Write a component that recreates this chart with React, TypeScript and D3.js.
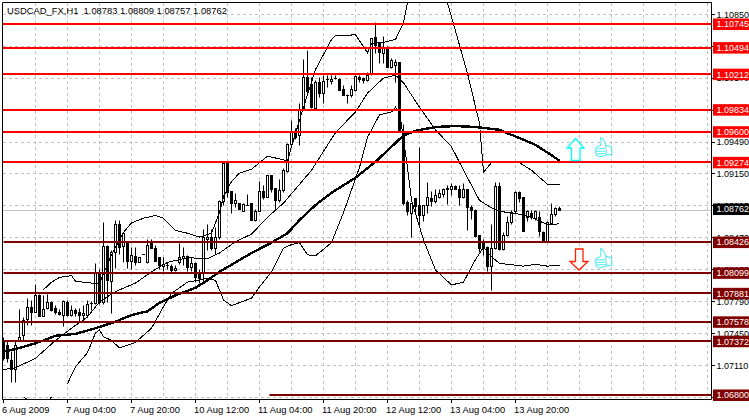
import React from "react";
import * as d3 from "d3";

// All prices below are in pips (price x 10000).
const opens = [10738,10733,10717,10707,10738,10743,10760,10773,10768,10786,10764,10772,10778,10772,10768,10765,10778,10765,10770,10768,10765,10765,10777,10777,10810,10778,10838,10801,10832,10861,10838,10842,10822,10827,10821,10829,10821,10841,10836,10826,10817,10818,10817,10812,10821,10825,10827,10816,10820,10810,10810,10845,10848,10836,10848,10886,10926,10896,10884,10884,10875,10882,10884,10866,10875,10896,10890,10913,10900,10887,10897,10918,10946,10960,10956,10983,11018,11010,10985,11012,11001,11015,11013,11017,11016,11005,10999,10998,11004,11018,11017,11014,11022,11060,11054,11043,11050,11028,11030,11034,10959,10885,10873,10889,10881,10871,10881,10889,10886,10890,10893,10898,10898,10902,10899,10890,10898,10879,10876,10850,10843,10837,10817,10836,10902,10835,10850,10863,10875,10895,10890,10869,10873,10868,10869,10853,10843,10862,10872,10878.3];
const highs = [10741,10738,10726,10738,10771,10762,10783,10780,10798,10787,10786,10787,10779,10775,10771,10781,10781,10775,10772,10772,10775,10781,10779,10820,10813,10863,10839,10834,10866,10866,10853,10842,10837,10837,10826,10829,10845,10845,10839,10826,10826,10821,10819,10818,10841,10837,10828,10826,10821,10813,10856,10861,10856,10858,10887,10926,10926,10896,10894,10884,10884,10893,10884,10877,10907,10903,10913,10913,10900,10909,10921,10947,10972,10963,10990,11037,11046,11018,11014,11018,11020,11020,11020,11020,11017,11009,11000,11009,11020,11020,11018,11023,11059,11076,11055,11061,11051,11038,11037,11034,10968,10887,10884,10889,10943,10882,10906,10896,10898,10898,10900,10903,10905,10903,10903,10905,10898,10882,10877,10850,10845,10838,10861,10906,10906,10853,10870,10876,10896,10896,10890,10876,10876,10876,10875,10854,10864,10884,10879,10880.9];
const lows = [10717,10715,10693,10693,10738,10738,10754,10754,10768,10764,10764,10771,10769,10766,10765,10753,10764,10763,10764,10758,10758,10763,10770,10776,10776,10776,10778,10767,10815,10829,10821,10815,10813,10818,10821,10829,10820,10836,10822,10813,10811,10813,10810,10811,10819,10818,10811,10811,10800,10799,10801,10834,10834,10829,10845,10882,10890,10873,10879,10877,10875,10881,10866,10864,10875,10888,10890,10895,10876,10885,10895,10917,10945,10952,10945,10983,11000,10985,10982,10996,10990,11007,11010,11015,11004,10998,10990,10996,11003,11012,11011,11013,11020,11043,11032,11032,11028,11027,11012,10959,10881,10871,10847,10873,10860,10864,10873,10880,10884,10889,10890,10883,10892,10898,10882,10889,10855,10867,10848,10831,10828,10811,10791,10835,10834,10834,10849,10861,10873,10885,10854,10864,10867,10866,10849,10843,10843,10862,10870,10875.7];
const closes = [10719,10719,10707,10733,10741,10759,10773,10768,10786,10764,10771,10778,10770,10768,10766,10779,10765,10770,10767,10765,10767,10776,10777,10810,10778,10838,10802,10832,10861,10837,10852,10822,10828,10821,10826,10829,10839,10836,10822,10818,10819,10818,10812,10815,10826,10827,10816,10820,10805,10804,10847,10848,10836,10848,10886,10926,10895,10884,10887,10877,10883,10882,10866,10875,10896,10890,10913,10898,10887,10897,10919,10946,10959,10954,10983,11018,11003,10986,11012,11001,11013,11015,11016,11017,11004,10999,10999,11005,11019,11016,11014,11020,11059,11052,11044,11050,11028,11036,11034,10959,10884,10875,10884,10880,10871,10881,10890,10886,10892,10894,10899,10900,10902,10899,10890,10899,10879,10876,10849,10836,10836,10817,10836,10902,10835,10850,10863,10873,10895,10889,10854,10875,10869,10875,10854,10843,10863,10872,10878,10876.2];

const maBars = [0,4,8,10,13,18,23,28,32,36,39,43,48,51,54,58,62,67,71,74,78,82,88,93,100,103,108,113,118,124,125,128,133,137,139];
const maValues = [10726,10730,10735,10738,10743,10745,10751,10758,10765,10769,10778,10786,10794,10802,10811,10821,10831,10842,10852,10866,10882,10895,10911,10928,10956,10961,10965,10966,10965,10962,10960,10955,10946,10935,10929];

const midBars = [0,3,8,13,17,21,24,28,33,37,41,46,51,54,58,62,66,70,77,83,88,91,95,98,100,104,108,112,115,119,122,124,127,132,136,139];
const midValues = [10707,10709,10719,10738,10751,10763,10779,10790,10799,10811,10821,10826,10825,10831,10843,10851,10869,10884,10919,10959,10981,11001,11017,11020,11012,10986,10962,10944,10919,10887,10879,10875,10874,10869,10861,10862];

const upperBars = [10,12,14,17,18,22,24,27,30,32,35,38,40,43,46,49,52,54,55,57,59,62,64,66,68,71,72,75,78,82,83,88,91,92,95,98,100,101,104,108,111,112,116,119,120,122,124,127,129,132,136,139];
const upperValues = [10792,10800,10805,10807,10801,10799,10799,10829,10853,10863,10868,10871,10868,10855,10852,10848,10852,10874,10891,10907,10916,10920,10927,10934,10932,10929,10944,10986,11026,11058,11062,11063,11044,11054,11055,11058,11076,11097,11153,11153,11097,11082,11022,10969,10917,10927,10928,10927,10927,10919,10904,10904];

const lowerBars = [5,7,9,11,12,14,16,18,21,23,24,25,27,29,33,37,40,42,46,51,53,55,57,62,64,67,70,72,74,76,78,82,85,89,91,94,97,98,99,101,102,105,108,112,115,118,120,122,124,130,133,136,139];
const lowerValues: (number | null)[] = [10678,10672,10653,10672,10678,null,10692,10710,10725,10746,10749,10742,10738,10730,10736,10751,10774,10788,10800,10804,10802,10781,10775,10783,10795,10811,10836,10840,10842,10829,10828,10842,10874,10922,10954,10978,10981,10986,10981,10922,10887,10845,10813,10797,10800,10824,10837,10827,10820,10817,10819,10817,10818];

const resistanceLevels = [11074.5, 11049.4, 11021.2, 10983.4, 10960.0, 10927.4];
const resistanceLabels = ["1.10745", "1.10494", "1.10212", "1.09834", "1.09600", "1.09274"];
const supportLevels = [10842.6, 10809.9, 10788.1, 10757.8, 10737.2, 10680.0];
const supportLabels = ["1.08426", "1.08099", "1.07881", "1.07578", "1.07372", "1.06800"];
const supportStartBar = [0, 0, 0, 0, 0, 66.5];

const priceTicks = [11085, 11051, 11017, 10983, 10949, 10915, 10881, 10847, 10813, 10779, 10745, 10711, 10677];
// "" marks a tick whose label is wholly covered by a level tag in the reference.
const priceTickLabels = ["1.10850", "", "1.10170", "", "1.09490", "1.09150", "1.08810", "1.08470", "1.08130", "1.07790", "1.07450", "1.07110", "1.06770"];
const timeTickBars = [0, 16, 32, 48, 64, 80, 96, 112, 128];
const timeTickLabels = ["6 Aug 2009", "7 Aug 04:00", "7 Aug 20:00", "10 Aug 12:00", "11 Aug 04:00", "11 Aug 20:00", "12 Aug 12:00", "13 Aug 04:00", "13 Aug 20:00"];
const gridEveryBars = 8;
const lastBarSlots = 176;
const lastPrice = 10876.2;
const lastPriceLabel = "1.08762";
const titleText = "USDCAD_FX,H1  1.08783 1.08809 1.08757 1.08762";

const W = 749, H = 417;
const left = 3, right = 711, top = 3, bottom = 399;
const FONT = "'Liberation Sans', Arial, sans-serif";
const FS = 9.4;
const AXIS_FS = 9;
const AXIS_X = 716.4;

const x = d3.scaleLinear().domain([0, 139]).range([3.5, 559.5]);
const y = d3.scaleLinear().domain([11074.5, 10680]).range([24, 395]);
const snap = (v: number) => Math.round(v - 0.5) + 0.5;

function bandPath(bars: number[], values: (number | null)[]) {
  const rows = bars.map((b, i) => ({ b, v: values[i] }));
  return d3.line<{ b: number; v: number | null }>()
    .defined(d => d.v !== null)
    .x(d => x(d.b))
    .y(d => y(d.v as number))(rows) || "";
}

const thumb = (
  <g fill="#fff" stroke="#22e6ee" strokeWidth={0.9}>
    <path d="M5 0 L7.5 1.5 L9 4 L10.5 8 L16 9 L16.5 17 L11 17.5 L4 19.5 L1 18 L0 14 L0.5 10 L5 8 L5.5 4 Z" />
    <path d="M1 11.5 L9 11 M0.8 14 L9.5 13.6 M1 16.5 L10 16 M10 8 L11 17.5" fill="none" strokeWidth={0.8} />
  </g>
);

export default function App() {
  const gridX = d3.range(gridEveryBars, lastBarSlots + 1, gridEveryBars);
  const tag = (key: string, py: number, label: string, bg: string) => (
    <g key={key}>
      <rect x={713} y={py - 5.5} width={36} height={11.5} fill={bg} />
      <text x={AXIS_X} y={py + 3.4} fill="#fff" fontSize={AXIS_FS}>{label}</text>
    </g>
  );
  return (
    <svg width={W} height={H} viewBox={`0 0 ${W} ${H}`} fontFamily={FONT}
      style={{ position: "absolute", left: 0, top: 0, display: "block", background: "#fff" }}>
      <defs>
        <clipPath id="plot"><rect x={left} y={top} width={right - left} height={bottom - top} /></clipPath>
      </defs>

      <g stroke="#c0c0c0" strokeDasharray="3 3">
        {gridX.map(b => <line key={b} x1={x(b)} x2={x(b)} y1={top} y2={bottom} />)}
        {priceTicks.map(p => <line key={p} x1={left} x2={right} y1={snap(y(p))} y2={snap(y(p))} />)}
      </g>
      <line x1={left} x2={right} y1={snap(y(lastPrice))} y2={snap(y(lastPrice))} stroke="#c0c0c0" />

      <g clipPath="url(#plot)">
        {opens.map((o, i) => {
          const c = closes[i];
          const px = x(i);
          const yO = snap(y(o)), yC = snap(y(c));
          const t = Math.min(yO, yC), h = Math.abs(yO - yC);
          return (
            <g key={i}>
              <line x1={px} x2={px} y1={snap(y(highs[i]))} y2={snap(y(lows[i]))} stroke="#000" />
              {h === 0
                ? <line x1={px - 1.5} x2={px + 1.5} y1={t} y2={t} stroke="#000" />
                : <rect x={px - 1} y={t} width={2} height={h} stroke="#000" fill={c >= o ? "#fff" : "#000"} />}
            </g>
          );
        })}
        <g shapeRendering="crispEdges" fill="none" stroke="#000">
          <path d={bandPath(upperBars, upperValues)} strokeWidth={1} />
          <path d={bandPath(midBars, midValues)} strokeWidth={1} />
          <path d={bandPath(lowerBars, lowerValues)} strokeWidth={1} />
          <path d={bandPath(maBars, maValues)} strokeWidth={2.4} />
        </g>
      </g>

      <g stroke="#ff0000" strokeWidth={2}>
        {resistanceLevels.map(p => <line key={p} x1={left} x2={right} y1={Math.round(y(p))} y2={Math.round(y(p))} />)}
      </g>
      <g stroke="#800000" strokeWidth={2}>
        {supportLevels.map((p, i) => (
          <line key={p} x1={Math.max(left, x(supportStartBar[i]))} x2={right} y1={Math.round(y(p))} y2={Math.round(y(p))} />
        ))}
      </g>

      {/* cyan up arrow and red down arrow */}
      <path d="M575.5 138.5 L584 148 L580 148 L580 160.5 L571.5 160.5 L571.5 148 L567 148 Z" fill="#fff" stroke="#00ffff" strokeWidth={1.3} />
      <path d="M575.5 249 L583 249 L583 261.5 L588 261.5 L579 270 L570 261.5 L575.5 261.5 Z" fill="#fff" stroke="#ff2000" strokeWidth={1.3} />
      <g transform="translate(595.5,137.5)">{thumb}</g>
      <g transform="translate(595.5,248.5)">{thumb}</g>

      <text x={7} y={14} fontSize={FS} fill="#000" xmlSpace="preserve">{titleText}</text>

      {/* frame */}
      <path d={`M2.5 2.5 V399.5 H711.5 V2.5 H2.5`} fill="none" stroke="#000" />

      {/* price axis */}
      {priceTicks.map((p, i) => (
        <g key={p}>
          <line x1={711} x2={715} y1={snap(y(p))} y2={snap(y(p))} stroke="#000" />
          {priceTickLabels[i] && <text x={AXIS_X} y={y(p) + 3.4} fontSize={AXIS_FS} fill="#000">{priceTickLabels[i]}</text>}
        </g>
      ))}
      {tag("last", y(lastPrice) - 1.5, lastPriceLabel, "#000")}
      {resistanceLevels.map((p, i) => tag(`r${i}`, y(p), resistanceLabels[i], "#ff0000"))}
      {supportLevels.map((p, i) => tag(`s${i}`, y(p), supportLabels[i], "#800000"))}

      {/* time axis */}
      {timeTickBars.map((b, i) => (
        <g key={b}>
          <line x1={x(b)} x2={x(b)} y1={399} y2={403} stroke="#000" />
          <text x={x(b) - 1.5} y={412.5} fontSize={FS} fill="#000">{timeTickLabels[i]}</text>
        </g>
      ))}
    </svg>
  );
}
